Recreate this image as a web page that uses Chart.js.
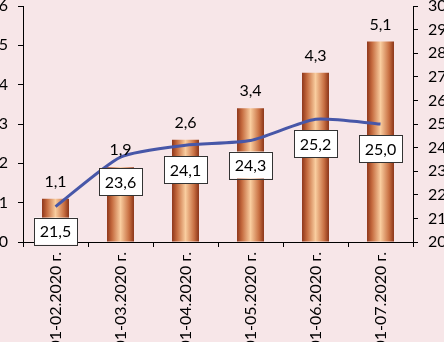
<!DOCTYPE html>
<html>
<head>
<meta charset="utf-8">
<script src="https://cdn.jsdelivr.net/npm/chart.js@4"></script>
<style>
  html, body { margin: 0; padding: 0; overflow: hidden; background: #f7e6e8; }
  #wrap { position: relative; width: 444px; height: 342px; overflow: hidden; }
</style>
</head>
<body>
<div id="wrap"><canvas id="chart" width="444" height="342"></canvas></div>
<script>
// Дані
const categories = ["01-02.2020 г.", "01-03.2020 г.", "01-04.2020 г.", "01-05.2020 г.", "01-06.2020 г.", "01-07.2020 г."];
const barValues = [1.1, 1.9, 2.6, 3.4, 4.3, 5.1];
const lineValues = [21.5, 23.6, 24.1, 24.3, 25.2, 25.0];
const leftTicks = [0, 1, 2, 3, 4, 5, 6];
const rightTicks = [20, 21, 22, 23, 24, 25, 26, 27, 28, 29, 30];

const FONT = { family: "Lato, 'Open Sans', sans-serif", size: 16 };
const fmt = (v) => v.toFixed(1).replace(".", ",");

// Циліндрична заливка стовпчиків
function barGradient(c) {
    const chart = c.chart;
    if (!chart.chartArea || !chart.scales.x) return "#d98a55";
    const x = chart.scales.x.getPixelForValue(c.dataIndex);
    const w = (chart.chartArea.right - chart.chartArea.left) / categories.length * 0.415;
    const g = chart.ctx.createLinearGradient(x - w / 2, 0, x + w / 2, 0);
    g.addColorStop(0, "#8e361a");
    g.addColorStop(0.18, "#c4693d");
    g.addColorStop(0.5, "#f9cd9f");
    g.addColorStop(0.82, "#c86f42");
    g.addColorStop(1, "#8a3417");
    return g;
}

const bgPlugin = {
    id: "bg",
    beforeDraw(chart) {
        const ctx = chart.ctx;
        ctx.save();
        ctx.fillStyle = "#f7e6e8";
        ctx.fillRect(0, 0, chart.width, chart.height);
        ctx.restore();
    }
};

// Підписи значень: над стовпчиками і в рамках під лінією
const labelsPlugin = {
    id: "labels",
    afterDatasetsDraw(chart) {
        const ctx = chart.ctx;
        ctx.save();
        ctx.font = `${FONT.size}px ${FONT.family}`;
        ctx.textAlign = "center";
        ctx.textBaseline = "middle";
        ctx.fillStyle = "#000";

        chart.getDatasetMeta(1).data.forEach((el, i) => {
            ctx.fillText(fmt(barValues[i]), el.x, el.y - 17);
        });

        chart.getDatasetMeta(0).data.forEach((pt, i) => {
            const bw = 43, bh = 27;
            const top = pt.y + 11;
            ctx.fillStyle = "#fff";
            ctx.fillRect(pt.x - bw / 2, top, bw, bh);
            ctx.strokeStyle = "#333";
            ctx.lineWidth = 1;
            ctx.strokeRect(Math.round(pt.x - bw / 2) + 0.5, Math.round(top) + 0.5, bw, bh);
            ctx.fillStyle = "#000";
            ctx.fillText(fmt(lineValues[i]), pt.x, top + bh / 2 + 1);
        });
        ctx.restore();
    }
};

const axisGrid = { display: true, drawOnChartArea: false, drawTicks: true, tickLength: 5, color: "#000" };

new Chart(document.getElementById("chart").getContext("2d"), {
    data: {
        labels: categories,
        datasets: [
            {
                type: "line",
                data: lineValues,
                yAxisID: "y2",
                borderColor: "#4757a8",
                borderWidth: 3,
                pointRadius: 0,
                tension: 0.2,
                order: 0
            },
            {
                type: "bar",
                data: barValues,
                yAxisID: "y",
                backgroundColor: barGradient,
                categoryPercentage: 1,
                barPercentage: 0.415,
                order: 1
            }
        ]
    },
    plugins: [bgPlugin, labelsPlugin],
    options: {
        responsive: false,
        animation: false,
        layout: { padding: { top: 6, left: 0, right: 0, bottom: 0 } },
        plugins: { legend: { display: false }, tooltip: { enabled: false } },
        scales: {
            x: {
                offset: true,
                grid: { ...axisGrid, offset: true },
                border: { color: "#000", width: 1 },
                ticks: { color: "#000", font: FONT, minRotation: 90, maxRotation: 90, autoSkip: false, padding: 5 },
                afterFit: (s) => { s.height = 100; s.paddingLeft = 0; s.paddingRight = 0; }
            },
            y: {
                position: "left",
                min: leftTicks[0],
                max: leftTicks[leftTicks.length - 1],
                grid: axisGrid,
                border: { color: "#000", width: 1 },
                ticks: { color: "#000", font: FONT, stepSize: 1, padding: 10 },
                afterFit: (s) => { s.width = 23; s.paddingTop = 0; s.paddingBottom = 0; }
            },
            y2: {
                position: "right",
                min: rightTicks[0],
                max: rightTicks[rightTicks.length - 1],
                grid: axisGrid,
                border: { color: "#000", width: 1 },
                ticks: { color: "#000", font: FONT, stepSize: 1, padding: 10 },
                afterFit: (s) => { s.width = 31; s.paddingTop = 0; s.paddingBottom = 0; }
            }
        }
    }
});
</script>
</body>
</html>
